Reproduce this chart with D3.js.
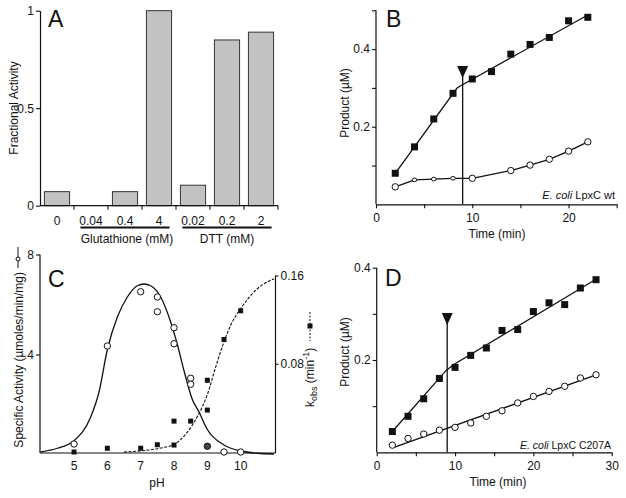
<!DOCTYPE html>
<html><head><meta charset="utf-8">
<script src="https://cdn.jsdelivr.net/npm/d3@7"></script>
<style>
body{margin:0;background:#fff}
svg{font-family:"Liberation Sans",Arial,sans-serif;}
</style>
</head><body>
<svg id="chart" width="626" height="498"></svg>
<script>
// ---------------- DATA ----------------
// Panel A
const aCategories = ["0","0.04","0.4","4","0.02","0.2","2"];
const aValues = [0.072, 0, 0.072, 1.0, 0.105, 0.85, 0.89];
const aGroupLabels = ["Glutathione (mM)", "DTT (mM)"];
const aGroupRanges = [["0.04","4"], ["0.02","2"]];
const aYTicks = [0, 0.5, 1];

// Panel B
const bSquareTime = [2,4,6,8,10,12,14,16,18,20,22];
const bSquares = [0.08,0.148,0.22,0.286,0.323,0.342,0.387,0.412,0.43,0.473,0.482];
const bCircleTime = [2,4,6,8,10,14,16,18,20,22];
const bCircles = [0.045,0.063,0.065,0.067,0.067,0.087,0.101,0.116,0.137,0.161];
const bSquareFitTime = [2, 8.4, 8.75, 22];
const bSquareFit = [0.08, 0.299, 0.305, 0.488];
const bArrowTime = 9;
const bXTicks = [0,5,10,15,20,25];
const bXLabels = [0,10,20];
const bYTicks = [0.1,0.2,0.3,0.4,0.5];
const bYLabels = [0.2,0.4];

// Panel C
const cCirclePH = [5,6,7,7.5,7.5,8,8,8.5,8.5,9,9.5,10];
const cActivity = [0.42,4.34,6.51,6.3,5.71,5.07,4.43,3.05,2.81,0.33,0.1,0.1];
const cSquarePH = [5,6,7,7.5,8,8,8.5,9,9,9.5,10];
const cKobs = [0.0,0.0034,0.0034,0.0066,0.0063,0.028,0.028,0.065,0.038,0.102,0.128];
const cCurvePH = [4,4.5,5,5.5,5.75,6,6.3,6.6,6.9,7.1,7.3,7.6,7.9,8.1,8.3,8.55,8.75,9,9.5,10,10.5,11];
const cCurveActivity = [0.1,0.25,0.55,1.5,2.5,4.2,5.5,6.3,6.75,6.82,6.75,6.3,5.3,4.4,3.35,2.2,1.7,1.0,0.38,0.14,0.05,0.02];
const cDashPH = [6.5,7,7.5,8,8.4,8.75,9,9.25,9.5,9.75,10,10.5,11];
const cDashKobs = [0,0.001,0.003,0.007,0.018,0.035,0.052,0.077,0.1,0.118,0.13,0.148,0.157];
const cXLabels = [5,6,7,8,9,10];
const cYLeftLabels = [4,8];
const cYRightLabels = [0.08,0.16];

// Panel D
const dTime = [2,4,6,8,10,12,14,16,18,20,22,24,26,28];
const dSquares = [0.045,0.078,0.116,0.16,0.184,0.21,0.226,0.264,0.266,0.305,0.324,0.32,0.356,0.374];
const dCircles = [0.0155,0.03,0.0395,0.048,0.054,0.0635,0.078,0.09,0.107,0.121,0.132,0.143,0.161,0.168];
const dSquareFitTime = [2, 8.9, 10, 28];
const dSquareFit = [0.045, 0.178, 0.192, 0.375];
const dCircleFitTime = [2.3, 28];
const dCircleFit = [0.011, 0.168];
const dArrowTime = 9;
const dXTicks = [0,5,10,15,20,25,30];
const dXLabels = [0,10,20,30];
const dYTicks = [0.1,0.2,0.3,0.4];
const dYLabels = [0.2,0.4];

// ---------------- DRAWING ----------------
const svg = d3.select("#chart");
const INK = "#111";
const FONT = 12;

function styleAxis(g){
  g.attr("font-family", '"Liberation Sans", Arial, sans-serif').attr("font-size", FONT);
  g.selectAll(".domain").attr("stroke", INK).attr("stroke-width", 1.2);
  g.selectAll(".tick line").attr("stroke", INK).attr("stroke-width", 1.1);
  g.selectAll(".tick text").attr("fill", INK);
}
const fmt = d => String(d);
function labeledFmt(labels){ return d => labels.includes(d) ? fmt(d) : ""; }

function panelLetter(x, y, t){
  svg.append("text").attr("x", x).attr("y", y).attr("font-size", 23).attr("fill", INK).text(t);
}
function vTitle(x, y, t){
  svg.append("text").attr("transform", `translate(${x},${y}) rotate(-90)`)
    .attr("text-anchor","middle").attr("font-size", FONT).attr("fill", INK).text(t);
}
function squares(g, xs, ys, xS, yS, size){
  g.selectAll(null).data(xs).enter().append("rect")
    .attr("x", (d,i)=>xS(d)-size/2).attr("y",(d,i)=>yS(ys[i])-size/2)
    .attr("width", size).attr("height", size).attr("fill", INK);
}
function circles(g, xs, ys, xS, yS, r, fill){
  g.selectAll(null).data(xs).enter().append("circle")
    .attr("cx", d=>xS(d)).attr("cy", (d,i)=>yS(ys[i])).attr("r", r)
    .attr("fill", fill || "#fff").attr("stroke", INK).attr("stroke-width", 1);
}
function line(g, xs, ys, xS, yS, curve, dash){
  const gen = d3.line().x(d=>xS(d[0])).y(d=>yS(d[1])).curve(curve || d3.curveLinear);
  const p = g.append("path").attr("d", gen(xs.map((x,i)=>[x, ys[i]])))
    .attr("fill","none").attr("stroke", INK).attr("stroke-width", 1.3);
  if (dash) p.attr("stroke-dasharray", dash);
  return p;
}
function arrow(g, t, xS, yTop, yBottom){
  const x = xS(t);
  g.append("line").attr("x1", x).attr("x2", x).attr("y1", yTop+10).attr("y2", yBottom)
    .attr("stroke", INK).attr("stroke-width", 1.3);
  g.append("path").attr("d", `M${x-5.5},${yTop} L${x+5.5},${yTop} L${x},${yTop+12} Z`).attr("fill", INK);
}
function strainLabel(x, y, italicPart, rest, size){
  const t = svg.append("text").attr("x", x).attr("y", y).attr("text-anchor","end")
    .attr("font-size", size).attr("fill", INK);
  t.append("tspan").attr("font-style","italic").text(italicPart);
  t.append("tspan").text(rest);
}

// ===== Panel A =====
{
  const x = d3.scaleBand().domain(aCategories).range([40, 278]).paddingInner(0.26).paddingOuter(0.13);
  const y = d3.scaleLinear().domain([0,1]).range([205.7, 10.7]);
  const g = svg.append("g");
  g.selectAll("rect").data(aValues).enter().append("rect")
    .attr("x", (d,i)=>x(aCategories[i])).attr("width", x.bandwidth())
    .attr("y", d=>y(d)).attr("height", d=>y(0)-y(d))
    .attr("fill", "#c2c2c2").attr("stroke", "#333").attr("stroke-width", 1);
  const ya = g.append("g").attr("transform","translate(40,0)")
    .call(d3.axisLeft(y).tickValues(aYTicks).tickFormat(fmt).tickSize(4).tickSizeOuter(0).tickPadding(2));
  styleAxis(ya);
  const step = x.step();
  const xa = g.append("g");
  xa.append("line").attr("x1",40).attr("x2",278).attr("y1",y(0)).attr("y2",y(0)).attr("stroke",INK).attr("stroke-width",1.2);
  aCategories.forEach((c,i)=>{
    const bx = x(c) + x.bandwidth() + step*0.13;
    xa.append("line").attr("x1",bx).attr("x2",bx).attr("y1",y(0)).attr("y2",y(0)+4).attr("stroke",INK).attr("stroke-width",1.1);
    xa.append("text").attr("x", x(c)+x.bandwidth()/2).attr("y", y(0)+19).attr("text-anchor","middle")
      .attr("font-size",FONT).attr("fill",INK).text(c);
  });
  aGroupRanges.forEach((r,k)=>{
    const x1 = x(r[0]) + 2, x2 = x(r[1]) + x.bandwidth() - 2;
    g.append("line").attr("x1",x1).attr("x2",x2).attr("y1",227.5).attr("y2",227.5).attr("stroke",INK).attr("stroke-width",2.2);
    g.append("text").attr("x",(x(r[0])+x(r[1])+x.bandwidth())/2 + (k===0?2:0)).attr("y",242.5).attr("text-anchor","middle")
      .attr("font-size",FONT).attr("fill",INK).text(aGroupLabels[k]);
  });
  vTitle(18, 108, "Fractional Activity");
  panelLetter(48, 27, "A");
}

// ===== Panel B =====
{
  const x = d3.scaleLinear().domain([0,25]).range([376, 616.7]);
  const y = d3.scaleLinear().domain([0,0.5]).range([204.3, 10.3]);
  const g = svg.append("g");
  const xa = g.append("g").attr("transform",`translate(0,${y(0)})`)
    .call(d3.axisBottom(x).tickValues(bXTicks).tickFormat(labeledFmt(bXLabels)).tickSize(4).tickSizeOuter(0).tickPadding(5));
  styleAxis(xa);
  const ya = g.append("g").attr("transform",`translate(${x(0)},0)`)
    .call(d3.axisLeft(y).tickValues(bYTicks).tickFormat(labeledFmt(bYLabels)).tickSize(4).tickSizeOuter(0).tickPadding(2));
  styleAxis(ya);
  ya.select(".domain").attr("d", `M0,${y(0)}V${y(0.5)}`);
  arrow(g, bArrowTime, x, 66, y(0));
  line(g, bSquareFitTime, bSquareFit, x, y);
  line(g, bCircleTime, bCircles, x, y);
  squares(g, bSquareTime, bSquares, x, y, 7);
  g.selectAll(null).data(bCircleTime).enter().append("ellipse")
    .attr("cx", d=>x(d)).attr("cy",(d,i)=>y(bCircles[i]))
    .attr("rx",(d)=> (d>3 && d<9) ? 2.4 : 3.2).attr("ry",(d)=> (d>3 && d<9) ? 1.8 : 3.2)
    .attr("fill","#fff").attr("stroke",INK).attr("stroke-width",1);
  strainLabel(615, 199, "E. coli", " LpxC wt", 11);
  vTitle(349, 103, "Product (\u00B5M)");
  svg.append("text").attr("x",497).attr("y",238).attr("text-anchor","middle").attr("font-size",FONT).attr("fill",INK).text("Time (min)");
  panelLetter(386, 27, "B");
}

// ===== Panel C =====
{
  const x = d3.scaleLinear().domain([4,11]).range([40.7, 274]);
  const yL = d3.scaleLinear().domain([0,8]).range([454.5, 254.5]);
  const yR = d3.scaleLinear().domain([0,0.16]).range([452, 275.5]);
  const g = svg.append("g");
  g.append("line").attr("x1",40).attr("x2",275.5).attr("y1",453).attr("y2",453).attr("stroke",INK).attr("stroke-width",1.2);
  cXLabels.forEach(v=>{
    g.append("text").attr("x",x(v)).attr("y",470).attr("text-anchor","middle").attr("font-size",FONT).attr("fill",INK).text(v);
  });
  const yla = g.append("g").attr("transform","translate(40,0)")
    .call(d3.axisLeft(yL).tickValues(cYLeftLabels).tickFormat(fmt).tickSize(4).tickSizeOuter(0).tickPadding(2));
  styleAxis(yla);
  yla.select(".domain").attr("d", `M0,453V${yL(8)}`);
  const yra = g.append("g").attr("transform","translate(275.5,0)")
    .call(d3.axisRight(yR).tickValues(cYRightLabels).tickFormat(fmt).tickSize(3).tickSizeOuter(0).tickPadding(2));
  styleAxis(yra);
  yra.select(".domain").attr("d", `M0,453V${yR(0.16)}`);
  line(g, cCurvePH, cCurveActivity, x, yL, d3.curveMonotoneX);
  line(g, cDashPH, cDashKobs, x, yR, d3.curveMonotoneX, "3,1.5").attr("stroke-width",1.1);
  squares(g, cSquarePH, cKobs, x, yR, 5);
  circles(g, cCirclePH, cActivity, x, yL, 3.2);
  g.selectAll("circle").filter((d,i)=>cCirclePH[i]===9).attr("fill","#444");
  svg.append("text").attr("transform","translate(23,272) rotate(-90)")
    .attr("text-anchor","end").attr("font-size",FONT).attr("fill",INK).text("Specific Activity (\u00B5moles/min/mg)");
  svg.append("line").attr("x1",18).attr("x2",18).attr("y1",247).attr("y2",268).attr("stroke",INK).attr("stroke-width",1);
  svg.append("circle").attr("cx",18).attr("cy",259).attr("r",2).attr("fill","#fff").attr("stroke",INK);
  const rt = svg.append("text").attr("transform","translate(314,407) rotate(-90)")
    .attr("font-size",FONT).attr("fill",INK);
  rt.append("tspan").text("k");
  rt.append("tspan").attr("font-size",9).attr("dy",3).text("obs");
  rt.append("tspan").attr("dy",-3).text(" (min");
  rt.append("tspan").attr("font-size",9).attr("dy",-5).text("-1");
  rt.append("tspan").attr("dy",5).text(")");
  svg.append("line").attr("x1",310).attr("x2",310).attr("y1",312).attr("y2",341).attr("stroke",INK).attr("stroke-width",1).attr("stroke-dasharray","2,1.5");
  svg.append("rect").attr("x",307.5).attr("y",323.5).attr("width",5).attr("height",5).attr("fill",INK);
  svg.append("text").attr("x",157).attr("y",487).attr("text-anchor","middle").attr("font-size",FONT).attr("fill",INK).text("pH");
  panelLetter(48, 287, "C");
}

// ===== Panel D =====
{
  const x = d3.scaleLinear().domain([0,30]).range([376.7, 611.7]);
  const y = d3.scaleLinear().domain([0,0.4]).range([452.3, 267.7]);
  const g = svg.append("g");
  const xa = g.append("g").attr("transform",`translate(0,${y(0)})`)
    .call(d3.axisBottom(x).tickValues(dXTicks).tickFormat(labeledFmt(dXLabels)).tickSize(4).tickSizeOuter(0).tickPadding(5));
  styleAxis(xa);
  const ya = g.append("g").attr("transform",`translate(${x(0)},0)`)
    .call(d3.axisLeft(y).tickValues(dYTicks).tickFormat(labeledFmt(dYLabels)).tickSize(4).tickSizeOuter(0).tickPadding(2));
  styleAxis(ya);
  ya.select(".domain").attr("d", `M0,${y(0)}V${y(0.4)}`);
  arrow(g, dArrowTime, x, 313, y(0));
  line(g, dSquareFitTime, dSquareFit, x, y);
  line(g, dCircleFitTime, dCircleFit, x, y);
  squares(g, dTime, dSquares, x, y, 7);
  circles(g, dTime, dCircles, x, y, 3.2);
  strainLabel(611, 449, "E. coli", " LpxC C207A", 10.5);
  vTitle(349, 352, "Product (\u00B5M)");
  svg.append("text").attr("x",498).attr("y",486).attr("text-anchor","middle").attr("font-size",FONT).attr("fill",INK).text("Time (min)");
  panelLetter(385, 286, "D");
}
</script>
</body></html>
